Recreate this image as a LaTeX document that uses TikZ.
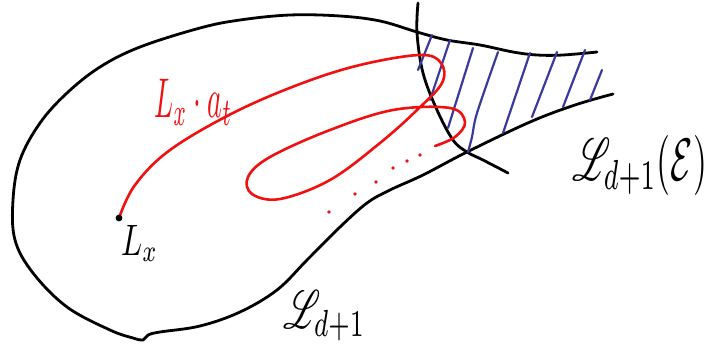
\documentclass[tikz,border=0pt]{standalone}
\usepackage{mathrsfs}
\definecolor{sketchred}{HTML}{F01010}
\definecolor{hatchblue}{HTML}{3A3A9C}

\begin{document}
\begin{tikzpicture}[
  x=1pt,
  y=-1pt,
  line join=round,
  line cap=round,
  outline/.style={draw=black,line width=2.8pt},
  orbit/.style={draw=sketchred,line width=2.6pt},
  hatch/.style={draw=hatchblue,line width=2.2pt},
  bigmath/.style={inner sep=0pt,anchor=base west}
]
  \useasboundingbox (0,0) rectangle (712,348);

  % Starting point of the orbit.
  \coordinate (Lx) at (119,218);

  % Outer region; its upper and lower edges run on into the thin end at the right.
  \draw[outline] plot[smooth,tension=0.6] coordinates {
    (597,52) (563,55) (537,55) (513,52) (480,45) (447,40) (417,32) (380,21)
    (340,16) (290,15) (240,20) (200,28) (140,47) (100,67) (67,93) (40,123)
    (20,160) (13,200) (15,240) (33,273) (67,307) (110,330) (133,338) (143,340)
    (148,335) (160,332) (200,326) (240,312) (277,290) (307,260) (340,227)
    (367,203) (390,190) (423,175) (467,152) (530,122) (575,105) (613,94)};

  % Crossing level set.
  \draw[outline] plot[smooth,tension=0.6] coordinates {
    (418,3) (417,33) (423,73) (437,110) (453,140) (467,152) (483,160) (508,173)};

  % Hatched part beyond the crossing curve.
  \foreach \xa/\ya/\xb/\yb in {418/70/432/35, 430/100/450/40, 448/128/473/48,
      503/133/530/53, 532/117/557/52, 563/107/585/50, 590/100/602/70} {
    \draw[hatch] (\xa,\ya) -- (\xb,\yb);
  }
  \draw[hatch] plot[smooth] coordinates {(468,152) (472,137) (477,113) (498,52)};

  % Orbit L_x . a_t, with its loop.
  \draw[orbit] plot[smooth,tension=0.6] coordinates {
    (Lx) (135,185) (170,150) (233,113) (300,84) (360,65) (420,55) (441,63)
    (442,83) (417,110) (380,143) (330,180) (280,199) (252,194) (248,177)
    (270,157) (330,130) (393,110) (450,108) (465,122) (455,137) (435,146)};
  \foreach \p in {(329,212),(355,194),(376,182),(393,168),(407,161),(420,155)} {
    \fill[sketchred] \p circle[radius=1.9pt];
  }
  \fill (Lx) circle[radius=3.4pt];

  % Labels.
  \node[bigmath,text=sketchred] (orbitlabel) at (154,117)
    {\scalebox{2.8}[5.6]{$L_x\cdot a_t$}};
  \node[bigmath] (startlabel) at (121,255) {\scalebox{3.1}[4.4]{$L_x$}};
  \node[bigmath] (levellabel) at (283,328)
    {\scalebox{3.5}[5.4]{$\mathscr{L}_{d+1}$}};
  \node[bigmath] (partlabel) at (572,180)
    {\scalebox{3.6}[6]{$\mathscr{L}_{d+1}(\mathcal{E})$}};
\end{tikzpicture}
\end{document}
